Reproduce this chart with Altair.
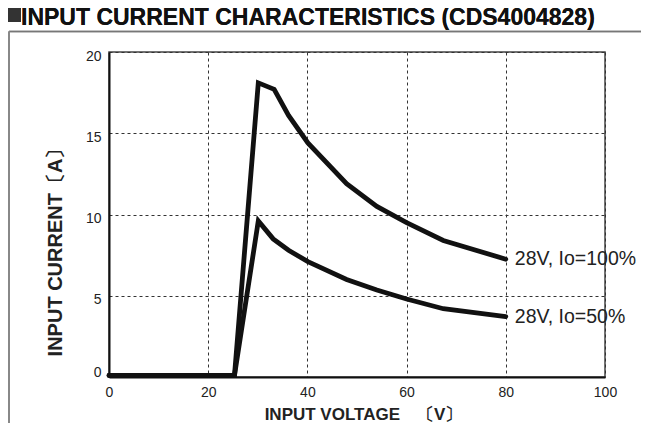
import altair as alt
import pandas as pd

volt_100 = [0, 25.3, 30.1, 33.3, 36.2, 40.1, 47.9, 54.0, 60.0, 67.4, 80.0]
curr_100 = [0.1, 0.1, 18.1, 17.7, 16.1, 14.4, 11.9, 10.5, 9.5, 8.4, 7.25]
volt_50 = [0, 25.3, 30.1, 33.1, 36.2, 40.1, 47.9, 54.0, 60.0, 67.4, 80.0]
curr_50 = [0.1, 0.1, 9.6, 8.5, 7.8, 7.1, 6.0, 5.35, 4.8, 4.2, 3.72]
series_names = ["28V, Io=100%", "28V, Io=50%"]

rows = []
for v, c in zip(volt_100, curr_100):
    rows.append({"v": v, "i": c, "s": series_names[0]})
for v, c in zip(volt_50, curr_50):
    rows.append({"v": v, "i": c, "s": series_names[1]})
df = pd.DataFrame(rows)
lab = pd.DataFrame({"v": [volt_100[-1], volt_50[-1]],
                    "i": [curr_100[-1], curr_50[-1]],
                    "s": series_names})

FONT = "Liberation Sans"

x = alt.X("v:Q", scale=alt.Scale(domain=[0, 100], nice=False),
          axis=alt.Axis(values=[0, 20, 40, 60, 80, 100], title="INPUT VOLTAGE　〔V〕",
                        titleFont=FONT, titleFontSize=17, titleFontWeight="bold",
                        titleColor="#222", titleX=254, titleY=37, titleBaseline="middle",
                        labelFont=FONT, labelFontSize=14, labelColor="#222",
                        labelPadding=8, labelFlush=False, tickSize=0, grid=True,
                        gridDash=[3, 3], gridColor="#333", gridWidth=1,
                        domainColor="#111", domainWidth=2))
y = alt.Y("i:Q", scale=alt.Scale(domain=[0, 20], nice=False),
          axis=alt.Axis(values=[0, 5, 10, 15, 20], title="INPUT CURRENT〔A〕",
                        titleFont=FONT, titleFontSize=20, titleFontWeight="bold",
                        titleColor="#222", titleX=-54, titleY=195, titleAngle=-90,
                        titleAlign="center", titleBaseline="middle",
                        labelFont=FONT, labelFontSize=14, labelColor="#222",
                        labelPadding=8, labelBaseline="middle", labelFlush=False,
                        labelOffset=alt.condition("datum.value == 0", alt.value(-5), alt.value(4)),
                        tickSize=0, grid=True,
                        gridDash=[3, 3], gridColor="#333", gridWidth=1,
                        domainColor="#111", domainWidth=2))

lines = alt.Chart(df).mark_line(color="#111", strokeWidth=4.8, strokeCap="round",
                                strokeJoin="miter").encode(x=x, y=y, detail="s:N")

labels = alt.Chart(lab).mark_text(align="left", baseline="middle", dx=9, fontSize=19.5,
                                  font=FONT, color="#222").encode(x="v:Q", y="i:Q", text="s:N")

square = alt.Chart(lab).mark_rect(color="#333").encode(
    x=alt.value(-101), x2=alt.value(-88), y=alt.value(-44), y2=alt.value(-30))

title = alt.Chart(lab).mark_text(align="left", baseline="alphabetic", fontSize=23,
                                 fontWeight="bold", font=FONT, color="#111").encode(
    x=alt.value(-88), y=alt.value(-27), text=alt.value("INPUT CURRENT CHARACTERISTICS (CDS4004828)"))

frame_top = alt.Chart(lab).mark_rule(color="#777", strokeWidth=1.5).encode(
    x=alt.value(-100), x2=alt.value(545), y=alt.value(-20.5))
frame_left = alt.Chart(lab).mark_rule(color="#888", strokeWidth=2).encode(
    x=alt.value(-100), y=alt.value(-20.5), y2=alt.value(390))

chart = alt.layer(frame_top, frame_left, square, title, lines, labels).properties(
    width=496, height=325,
    autosize=alt.AutoSizeParams(type="none"),
    padding={"left": 101, "top": 44, "right": 36, "bottom": 46},
).configure_view(stroke="#444", strokeWidth=1.5)

chart.save("out.html", embed_options={"renderer": "svg", "actions": False})
